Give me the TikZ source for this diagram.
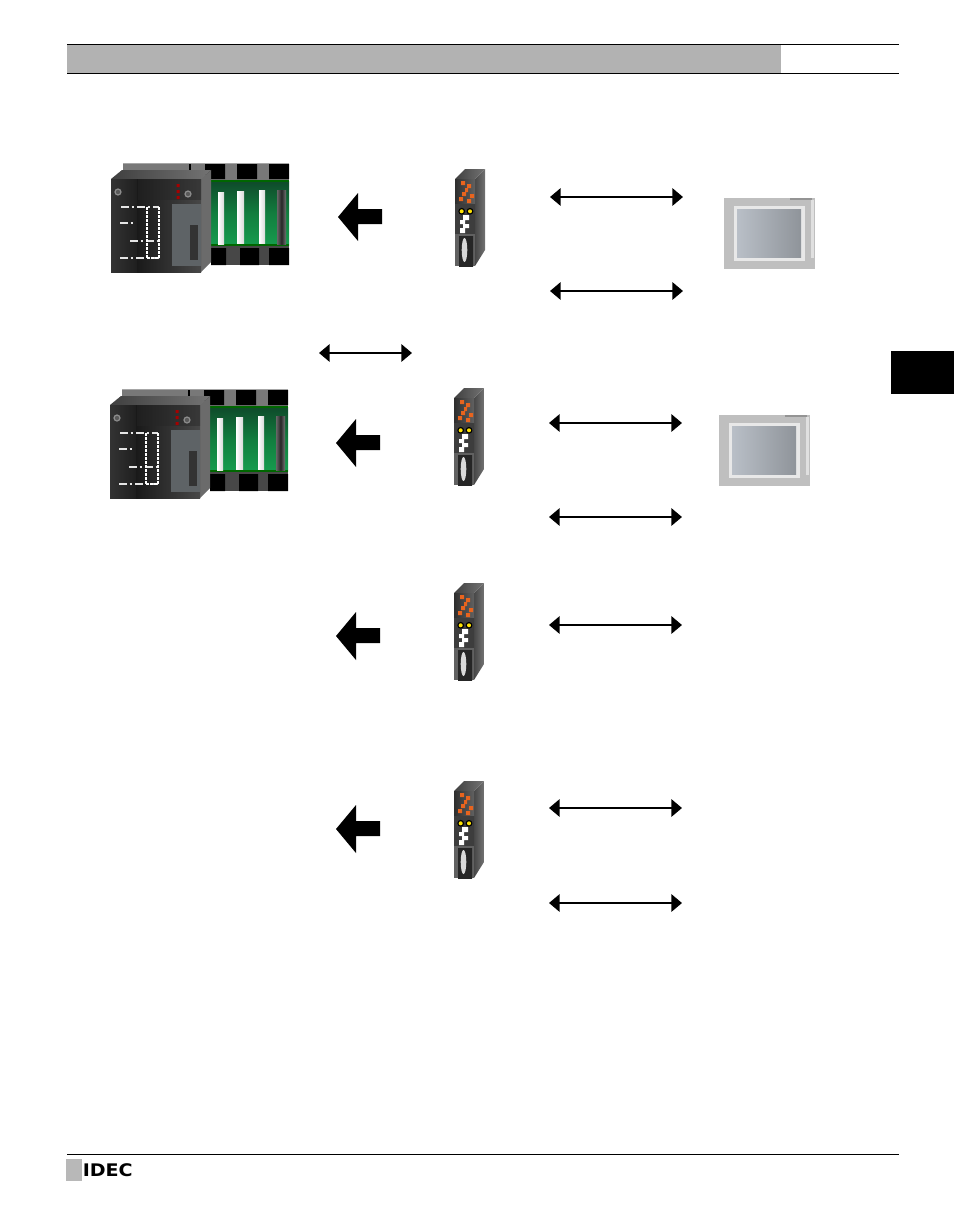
\documentclass[tikz,border=0pt]{standalone}
\usepackage{fontspec}
\setmainfont{DejaVu Sans}
\usetikzlibrary{arrows.meta}
\definecolor{boardtop}{HTML}{0F4A2A}
\definecolor{boardlow}{HTML}{169C4E}
\definecolor{screenlight}{HTML}{B9BFC7}
\definecolor{screendark}{HTML}{8F949A}
\definecolor{chipgrey}{HTML}{5E6366}
\definecolor{pixelorange}{HTML}{E8641E}
\begin{document}
\begin{tikzpicture}[x=0.75pt,y=-0.75pt,
    link/.style ={{Triangle[length=8pt,width=13pt]}-{Triangle[length=8pt,width=13pt]},line width=1.7pt},
    rule/.style ={line width=0.55pt},
    dashmark/.style ={white,line width=0.8pt,dash pattern=on 2pt off 1pt},
    chainmark/.style ={white!90!black,line width=0.8pt,dash pattern=on 6pt off 2pt on 2pt off 2pt},
    screw/.style ={circle,inner sep=0pt,minimum size=4.5pt,draw=black!45,line width=0.9pt,fill=black!65},
    plc/.pic ={
      % rack behind the cpu
      \fill[black!53] (12,3) rectangle (178,19);
      \draw[black!35,line width=0.6pt] (12,2) -- (178,2);
      \fill (78,3) rectangle (80,19);
      \fill (94,3) rectangle (114,18) (126,3) rectangle (146,18) (158,3) rectangle (178,18);
      \fill[black!72] (100,84) rectangle (178,104);
      \fill (100,87) rectangle (115,104) (129,87) rectangle (148,104) (158,87) rectangle (178,104);
      \shade[top color=boardtop,bottom color=boardlow,middle color=boardlow!80!black] (100,20) rectangle (178,84);
      \draw[green!40!black,line width=0.8pt] (100,20) -- (178,20) (100,84) -- (178,84);
      \shade[left color=white,right color=black!15] (107,31) rectangle (113,83);
      \shade[left color=white,right color=black!15] (126,30) rectangle (133,82);
      \shade[left color=white,right color=black!15] (148,29) rectangle (154,82);
      \shade[left color=black!60,right color=black!55,middle color=black!85] (166,29) rectangle (175,83);
      % cpu
      \fill[black!58] (90,18) -- (100,9) -- (100,101) -- (90,111) -- cycle;
      \shade[left color=black!75,right color=black!55] (0,18) -- (11,9) -- (100,9) -- (90,18) -- cycle;
      \shade[left color=black!90,middle color=black!52,right color=black!72] (26,18) rectangle (90,111);
      \shade[top color=black!85,bottom color=black!85,middle color=black!85,opacity=0.45] (26,18) rectangle (90,38);
      \shade[left color=black!80,middle color=black!45,right color=black!88] (0,18) rectangle (26,111);
      \draw[black!90,line width=0.5pt] (26,18) -- (26,111);
      \fill[chipgrey] (61,43) rectangle (90,105);
      \fill[black!80] (79,64) rectangle (87,99);
      \fill[red!65!black] (65.5,23) rectangle (68.5,26) (65.5,29) rectangle (68.5,32) (65.5,35) rectangle (68.5,38);
      \node[screw] (screwA) at (7,31) {};
      \node[screw] (screwB) at (77,33) {};
      % dashed marks on the front
      \draw[chainmark] (10,46) -- (48,46);
      \draw[chainmark] (9,62) -- (24,62);
      \draw[chainmark] (19,80) -- (46,80);
      \draw[chainmark] (9,97) -- (48,97);
      \draw[dashmark] (36,46) -- (36,97) (48,46) -- (48,97) (36,97) -- (48,97);
    },
    adapter/.pic ={
      \shade[left color=black!72,right color=black!55] (20,0) -- (30,-10) -- (30,71) -- (20,87) -- cycle;
      \shade[left color=black!75,right color=black!55] (0,0) -- (10,-10) -- (30,-10) -- (20,0) -- cycle;
      \fill[black!76] (0,0) rectangle (20,87);
      \shade[left color=black!82,right color=black!62] (0,0) rectangle (20,24);
      \fill[pixelorange] (6,2) rectangle (10,6) (12,5) rectangle (16,9) (10,9) rectangle (13,13) (7,13) rectangle (11,17)
        (4,18) rectangle (8,22) (12,20) rectangle (16,24) (15,15) rectangle (19,19);
      \fill (6.7,32.3) circle (3.4) (15,32.3) circle (3.4);
      \fill[yellow!85!orange] (6.7,32.3) circle (2) (15,32.3) circle (2);
      \fill[white] (8,36) rectangle (14,41) (5,41) rectangle (10,45) (8,45) rectangle (14,49) (5,49) rectangle (10,54);
      \fill[black!62] (0,55) rectangle (20,87);
      \shade[left color=black!85,middle color=black!45,right color=black!85] (4,57) rectangle (18,87);
      \fill[white!85!black] (9.5,71) ellipse (2.8 and 12);
    },
    panel/.pic ={
      \fill[black!25] (0,0) rectangle (91,71);
      \fill[black!42] (66,0) rectangle (88,2);
      \fill[black!12] (87,2) rectangle (90,60);
      \fill[black!9] (10,8) rectangle (81,63);
      \shade[shading angle=115,left color=screenlight,right color=screendark] (13,11) rectangle (77,59);
    },
    bigarrow/.pic ={
      \fill (0,0) -- (20,-24) -- (20,-8) -- (44,-8) -- (44,7) -- (20,7) -- (20,24) -- cycle;
    }]
   \useasboundingbox (0,0) rectangle (954,1206);
   % header and footer
   \fill[black!30] (67,44) rectangle (781,73);
   \coordinate (headL) at (67,44);
   \coordinate (headR) at (899,44);
   \coordinate (headLb) at (67,73);
   \coordinate (headRb) at (899,73);
   \coordinate (footL) at (67,1154);
   \coordinate (footR) at (899,1154);
   \draw[rule] (headL) -- (headR);
   \draw[rule] (headLb) -- (headRb);
   \draw[rule] (footL) -- (footR);
   \fill (891,351) rectangle (954,394);
   \fill[black!28] (66,1159) rectangle (82,1181);
   \node[anchor=west,inner sep=0pt,font=\bfseries\fontsize{13pt}{14pt}\selectfont,xscale=1.1] (logo) at (82.5,1170) {IDEC};
   % controllers
   \pic (plcA) at (111,161) {plc};
   \pic (plcB) at (110,387) {plc};
   % adapters
   \pic (adapterA) at (455,179) {adapter};
   \pic (adapterB) at (454,398) {adapter};
   \pic (adapterC) at (454,593) {adapter};
   \pic (adapterD) at (454,791) {adapter};
   % panels
   \pic (panelA) at (724,198) {panel};
   \pic (panelB) at (719,415) {panel};
   % big arrows
   \pic (bigA) at (338,217) {bigarrow};
   \pic (bigB) at (336,443) {bigarrow};
   \pic (bigC) at (336,636) {bigarrow};
   \pic (bigD) at (336,829) {bigarrow};
   % links
   \coordinate (a1) at (550,197);
   \coordinate (b1) at (683,197);
   \coordinate (a2) at (550,291);
   \coordinate (b2) at (683,291);
   \coordinate (a3) at (549,423);
   \coordinate (b3) at (682,423);
   \coordinate (a4) at (549,517);
   \coordinate (b4) at (682,517);
   \coordinate (a5) at (549,625);
   \coordinate (b5) at (682,625);
   \coordinate (a6) at (549,808);
   \coordinate (b6) at (682,808);
   \coordinate (a7) at (549,903);
   \coordinate (b7) at (682,903);
   \coordinate (a8) at (319,353);
   \coordinate (b8) at (412,353);
   \draw[link] (a1) to (b1);
   \draw[link] (a2) to (b2);
   \draw[link] (a3) to (b3);
   \draw[link] (a4) to (b4);
   \draw[link] (a5) to (b5);
   \draw[link] (a6) to (b6);
   \draw[link] (a7) to (b7);
   \draw[link] (a8) to (b8);
\end{tikzpicture}
\end{document}
